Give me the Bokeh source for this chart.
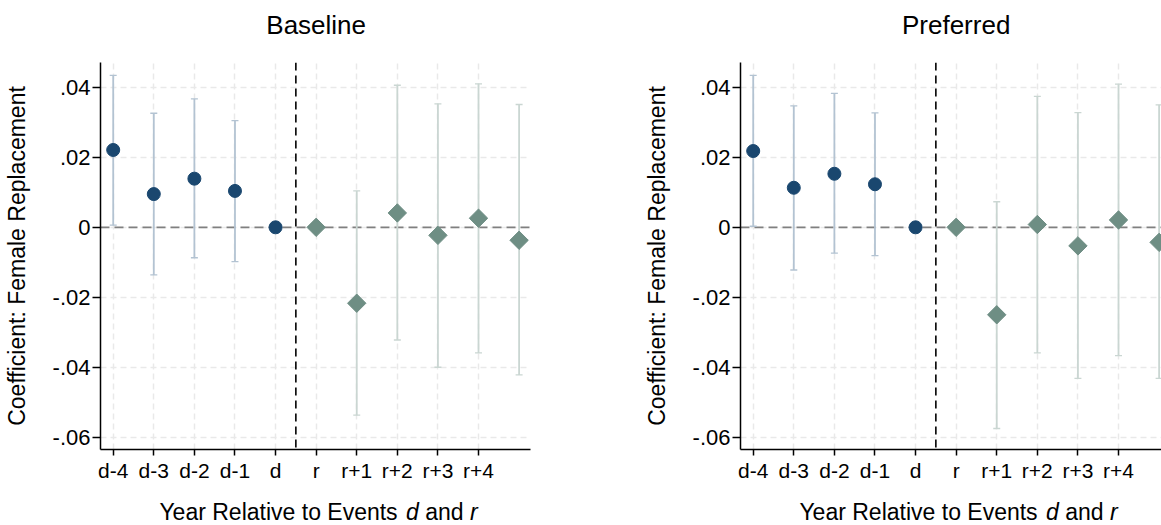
import numpy as np
from bokeh.plotting import figure
from bokeh.models import FixedTicker, Span, Range1d
from bokeh.core.properties import value
from bokeh.layouts import row, column
from bokeh.embed import file_html
from bokeh.resources import INLINE

nan = np.nan

# ---------------- data ----------------
period_labels = ["d-4", "d-3", "d-2", "d-1", "d", "r", "r+1", "r+2", "r+3", "r+4"]
pre_x = [0, 1, 2, 3, 4]
post_x = [5, 6, 7, 8, 9, 10]

base_pre_coef = [0.0221, 0.0095, 0.0139, 0.0104, 0.0]
base_pre_lo = [0.0006, -0.0136, -0.0087, -0.0098, nan]
base_pre_hi = [0.0434, 0.0326, 0.0367, 0.0305, nan]
base_post_coef = [0.0, -0.0217, 0.0041, -0.0023, 0.0026, -0.0037]
base_post_lo = [nan, -0.0537, -0.0322, -0.0400, -0.0359, -0.0422]
base_post_hi = [nan, 0.0104, 0.0406, 0.0353, 0.0410, 0.0351]

pref_pre_coef = [0.0218, 0.0113, 0.0153, 0.0123, 0.0]
pref_pre_lo = [0.0003, -0.0122, -0.0074, -0.0081, nan]
pref_pre_hi = [0.0434, 0.0347, 0.0383, 0.0327, nan]
pref_post_coef = [0.0, -0.0250, 0.0008, -0.0053, 0.0021, -0.0043]
pref_post_lo = [nan, -0.0575, -0.0359, -0.0432, -0.0367, -0.0432]
pref_post_hi = [nan, 0.0073, 0.0374, 0.0328, 0.0409, 0.0350]

ytick_vals = [-0.06, -0.04, -0.02, 0, 0.02, 0.04]
ytick_labels = ["-.06", "-.04", "-.02", "0", ".02", ".04"]

panel_titles = ["Baseline", "Preferred"]
ylabel_text = "Coefficient: Female Replacement"
xlabel_pieces = ["Year Relative to Events", "d", "and", "r"]
xlabel_styles = ["normal", "italic", "normal", "italic"]

# ---------------- style ----------------
FONT = "Liberation Sans"
NAVY = "#1a476f"
SEA = "#6e8e84"
NAVY_CI = "#b3c3d2"
SEA_CI = "#cad6d2"
GRID = "#e9e9e9"

Y0, Y1 = -0.0635, 0.0471
PX_PER_X = 40.59
X0 = -0.313
TOP_H, MAIN_H, BOT_H = 48, 441, 36


def strip(width, border_right, xr, height):
    q = figure(width=width, height=height, output_backend="svg", toolbar_location=None,
               x_range=xr, y_range=Range1d(0, height), x_axis_type=None, y_axis_type=None,
               title=None, min_border_left=100, min_border_right=border_right,
               min_border_top=0, min_border_bottom=0)
    q.outline_line_color = None
    q.grid.visible = False
    q.background_fill_color = "white"
    q.border_fill_color = "white"
    return q


def make_panel(title, pre_c, pre_lo, pre_hi, post_c, post_lo, post_hi,
               width, frame_w, border_right):
    xr = Range1d(X0, X0 + frame_w / PX_PER_X)

    # title strip
    t = strip(width, border_right, xr, TOP_H)
    t.text(x=[5.0], y=[TOP_H - 24], text=[title], text_font=value(FONT),
           text_font_size="26px", text_color="black", text_align="center",
           text_baseline="middle")

    p = figure(width=width, height=MAIN_H, output_backend="svg", toolbar_location=None,
               x_range=xr, y_range=Range1d(Y0, Y1), title=None,
               min_border_left=100, min_border_right=border_right,
               min_border_top=14, min_border_bottom=40)
    p.outline_line_color = None
    p.background_fill_color = "white"
    p.border_fill_color = "white"

    # axes
    p.xaxis.ticker = FixedTicker(ticks=list(range(len(period_labels))))
    p.xaxis.major_label_overrides = {i: lab for i, lab in enumerate(period_labels)}
    p.yaxis.ticker = FixedTicker(ticks=ytick_vals)
    p.yaxis.major_label_overrides = {v: lab for v, lab in zip(ytick_vals, ytick_labels)}
    for ax in (p.xaxis[0], p.yaxis[0]):
        ax.axis_line_color = "black"
        ax.axis_line_width = 1.5
        ax.major_tick_line_color = "black"
        ax.major_tick_line_width = 1.5
        ax.major_tick_in = 0
        ax.minor_tick_line_color = None
        ax.major_label_text_font = FONT
        ax.major_label_text_color = "black"
    p.xaxis.major_tick_out = 6
    p.xaxis.major_label_standoff = 3
    p.xaxis.major_label_text_font_size = "21px"
    p.yaxis.major_tick_out = 8
    p.yaxis.major_label_standoff = 2
    p.yaxis.major_label_text_font_size = "22px"
    p.yaxis.axis_label = ylabel_text
    p.yaxis.axis_label_text_font = FONT
    p.yaxis.axis_label_text_font_size = "23px"
    p.yaxis.axis_label_text_font_style = "normal"
    p.yaxis.axis_label_text_color = "black"
    p.yaxis.axis_label_standoff = 20

    # grid
    for g in (p.xgrid[0], p.ygrid[0]):
        g.grid_line_color = GRID
        g.grid_line_width = 1.5
        g.grid_line_dash = "6 4"

    # reference lines
    p.add_layout(Span(location=0, dimension="width", line_color="#808080",
                      line_width=1.8, line_dash="9 5", level="underlay"))
    p.add_layout(Span(location=4.5, dimension="height", line_color="black",
                      line_width=1.6, line_dash="8 5"))

    # confidence intervals
    for xs, lo, hi, col in ((pre_x, pre_lo, pre_hi, NAVY_CI), (post_x, post_lo, post_hi, SEA_CI)):
        lo = np.array(lo, dtype=float)
        hi = np.array(hi, dtype=float)
        xs = np.array(xs, dtype=float)
        p.segment(x0=xs, y0=lo, x1=xs, y1=hi, line_color=col, line_width=1.8)
        p.scatter(x=xs, y=lo, marker="dash", size=7, line_color=col, line_width=1.3)
        p.scatter(x=xs, y=hi, marker="dash", size=7, line_color=col, line_width=1.3)

    # point estimates
    p.scatter(x=pre_x, y=pre_c, marker="circle", size=13, fill_color=NAVY, line_color=NAVY)
    p.scatter(x=post_x, y=post_c, marker="square", angle=np.pi / 4, size=13,
              fill_color=SEA, line_color=SEA)

    # x-axis title strip (mixed upright / italic text)
    q = strip(width, border_right, xr, BOT_H)
    offsets = [-159.2, 87.5, 106.7, 151.4]
    xc = 5.06
    for txt, style, off in zip(xlabel_pieces, xlabel_styles, offsets):
        q.text(x=[xc], y=[14], text=[txt], x_offset=off,
               text_font=value(FONT), text_font_size="23px", text_font_style=style,
               text_color="black", text_align="left", text_baseline="middle")
    return column(t, p, q, spacing=0)


c1 = make_panel(panel_titles[0], base_pre_coef, base_pre_lo, base_pre_hi,
                base_post_coef, base_post_lo, base_post_hi,
                width=640, frame_w=430, border_right=110)
c2 = make_panel(panel_titles[1], pref_pre_coef, pref_pre_lo, pref_pre_hi,
                pref_post_coef, pref_post_lo, pref_post_hi,
                width=521, frame_w=421, border_right=0)

layout = row(c1, c2, spacing=0)
open("out.html", "w").write(file_html(layout, INLINE))
